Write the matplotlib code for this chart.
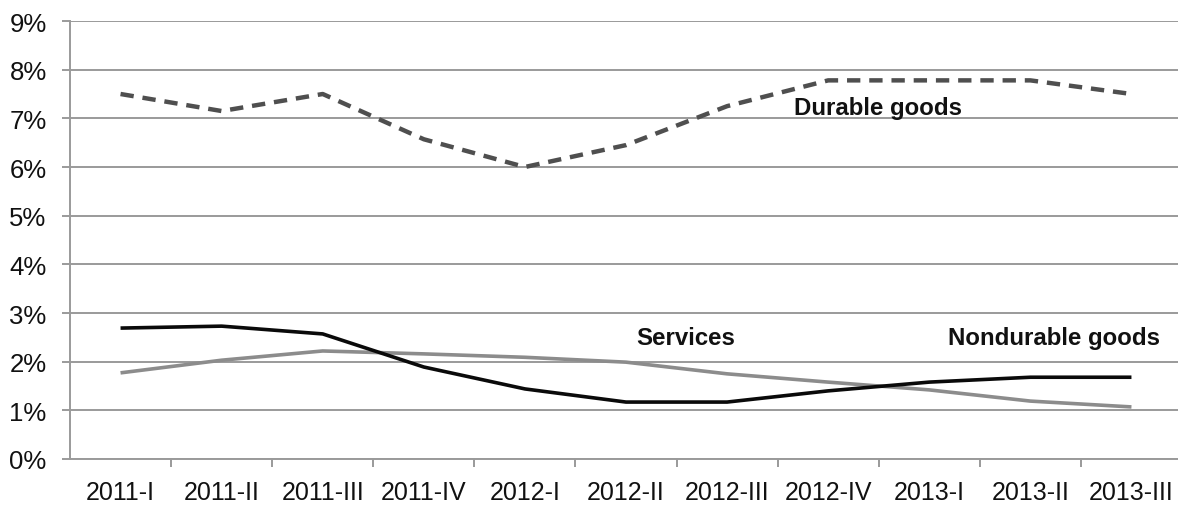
import numpy as np
import matplotlib.pyplot as plt
from matplotlib.ticker import FuncFormatter, FixedLocator

plt.rcParams['font.family'] = ['Liberation Sans', 'DejaVu Sans']

# Data
quarters = ['2011-I', '2011-II', '2011-III', '2011-IV', '2012-I', '2012-II',
            '2012-III', '2012-IV', '2013-I', '2013-II', '2013-III']
durable = [7.5, 7.15, 7.5, 6.57, 6.0, 6.45, 7.25, 7.78, 7.78, 7.78, 7.5]
black_line = [2.69, 2.73, 2.57, 1.89, 1.44, 1.17, 1.17, 1.40, 1.58, 1.68, 1.68]
gray_line = [1.77, 2.03, 2.22, 2.16, 2.09, 1.99, 1.75, 1.58, 1.42, 1.19, 1.07]

W, H = 1178, 506
fig = plt.figure(figsize=(W / 100, H / 100), dpi=100)
# axes in pixel coords: left 70, right ~1182, top 22, bottom 460
ax = fig.add_axes([70 / W, (H - 460) / H, (1182 - 70) / W, (460 - 22) / H])

x = np.arange(len(quarters))
ax.plot(x, gray_line, color='#8c8c8c', lw=2.6, solid_capstyle='butt', zorder=3)
ax.plot(x, black_line, color='#0a0a0a', lw=2.6, solid_capstyle='butt', zorder=4)
ax.plot(x, durable, color='#4f4f4f', lw=3.2, linestyle=(0, (3, 2)), zorder=5)

ax.set_xlim(-0.5, len(quarters) - 0.5)
ax.set_ylim(0, 9)
ax.set_yticks(np.arange(0, 10, 1))
ax.yaxis.set_major_formatter(FuncFormatter(lambda v, p: f'{v:.0f}%'))
ax.grid(axis='y', color='#9a9a9a', lw=1.4)
ax.set_axisbelow(True)

ax.set_xticks(x)
ax.set_xticklabels(quarters)
ax.xaxis.set_minor_locator(FixedLocator(np.arange(0.5, len(quarters) - 1, 1)))
ax.tick_params(axis='x', which='major', length=0, pad=15, labelsize=18, labelcolor='#111111')
ax.tick_params(axis='x', which='minor', length=5.5, width=1.4, color='#9a9a9a')
ax.tick_params(axis='y', length=5.8, width=1.4, color='#9a9a9a', pad=11, labelsize=18.5, labelcolor='#111111')

for s in ['top', 'right']:
    ax.spines[s].set_visible(False)
for s in ['left', 'bottom']:
    ax.spines[s].set_color('#9a9a9a')
    ax.spines[s].set_linewidth(1.4)

ax.text(6.66, 7.23, 'Durable goods', fontsize=17.3, fontweight='bold', color='#111111', va='center')
ax.text(5.10, 2.5, 'Services', fontsize=17.3, fontweight='bold', color='#111111', va='center')
ax.text(8.19, 2.5, 'Nondurable goods', fontsize=17.3, fontweight='bold', color='#111111', va='center')

fig.savefig('out.png', dpi=100)
